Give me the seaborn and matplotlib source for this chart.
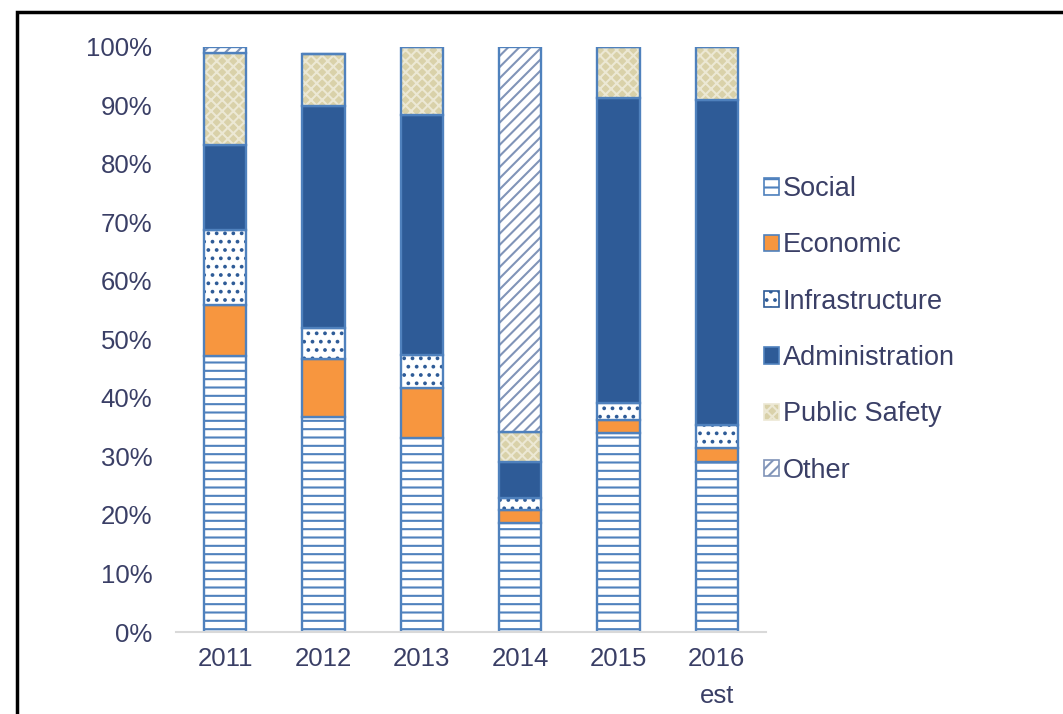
import matplotlib
matplotlib.use("Agg")
import matplotlib.pyplot as plt
import seaborn as sns
import numpy as np
from matplotlib.patches import Patch, Rectangle

# ---- data (percent of total) ----
years = ["2011", "2012", "2013", "2014", "2015", "2016\nest"]
categories = ["Social", "Economic", "Infrastructure", "Administration", "Public Safety", "Other"]
social = [47.2, 36.8, 33.2, 18.6, 34.0, 29.1]
economic = [8.7, 9.9, 8.5, 2.3, 2.2, 2.4]
infrastructure = [12.8, 5.3, 5.7, 2.0, 2.9, 3.9]
administration = [14.5, 37.9, 41.0, 6.2, 52.2, 55.5]
public_safety = [15.8, 8.9, 11.6, 5.1, 8.7, 9.1]
other = [1.0, 0.0, 0.0, 65.8, 0.0, 0.0]
ytick_values = [0, 10, 20, 30, 40, 50, 60, 70, 80, 90, 100]
ytick_labels = [f"{v}%" for v in ytick_values]

series = [social, economic, infrastructure, administration, public_safety, other]

# ---- styles ----
outline = "#4f81bd"
styles = {
    "Social":         dict(face="white",   hatch="--",  hcol="#4f81bd"),
    "Economic":       dict(face="#f7963f", hatch=None,  hcol="#f7963f"),
    "Infrastructure": dict(face="white",   hatch="..",  hcol="#2e5b97"),
    "Administration": dict(face="#2e5b97", hatch=None,  hcol="#2e5b97"),
    "Public Safety":  dict(face="#d9d1a9", hatch="xxx", hcol="#ece8d4"),
    "Other":          dict(face="white",   hatch="///", hcol="#8094b8"),
}
text_color = "#3a3f66"

sns.set_theme(style="white")
plt.rcParams["font.family"] = ["Liberation Sans", "DejaVu Sans"]
plt.rcParams["hatch.linewidth"] = 1.5

fig, ax = plt.subplots(figsize=(10.63, 7.14), dpi=100)
fig.subplots_adjust(left=176 / 1063, right=766 / 1063, bottom=1 - 632 / 714, top=1 - 47 / 714)

bar_w = 0.43
bottom = np.zeros(len(years))
for name, vals in zip(categories, series):
    st = styles[name]
    vals = np.array(vals, dtype=float)
    sns.barplot(x=years, y=vals, bottom=bottom, color=st["face"], saturation=1,
                hatch=st["hatch"], edgecolor=st["hcol"], linewidth=0,
                width=bar_w, ax=ax, errorbar=None)
    sns.barplot(x=years, y=vals, bottom=bottom, color=st["face"], saturation=1,
                facecolor="none", edgecolor=outline, linewidth=1.7,
                width=bar_w, ax=ax, errorbar=None)
    bottom = bottom + vals

ax.set_ylim(0, 100)
ax.set_xlim(-0.5, 5.5)
ax.set_yticks(ytick_values)
ax.set_yticklabels(ytick_labels)
ax.tick_params(axis="both", length=0, labelsize=18.5, colors=text_color)
ax.tick_params(axis="x", pad=11)
ax.tick_params(axis="y", pad=17)
for lbl in ax.get_xticklabels():
    lbl.set_linespacing(1.65)
for s in ["left", "right", "top"]:
    ax.spines[s].set_visible(False)
ax.spines["bottom"].set_color("#d9d9d9")
ax.spines["bottom"].set_linewidth(1.5)
ax.set_xlabel("")
ax.set_ylabel("")

handles = []
for name in categories:
    st = styles[name]
    handles.append(Patch(facecolor=st["face"], hatch=st["hatch"], edgecolor=st["hcol"] if st["hatch"] else outline,
                         linewidth=1.2, label=name))
leg = fig.legend(handles=handles, loc="upper left", bbox_to_anchor=(764 / 1063, 1 - 176 / 714),
                 frameon=False, fontsize=19.5, handlelength=0.55, handleheight=0.55,
                 handletextpad=0.15, labelspacing=1.12, borderaxespad=0, borderpad=0)
for t in leg.get_texts():
    t.set_color(text_color)

fig.add_artist(Rectangle((17 / 1063, -0.05), 1.2, 1.05 - 12 / 714, transform=fig.transFigure,
                         fill=False, edgecolor="black", linewidth=2.5))

fig.savefig("out.png", dpi=100)
